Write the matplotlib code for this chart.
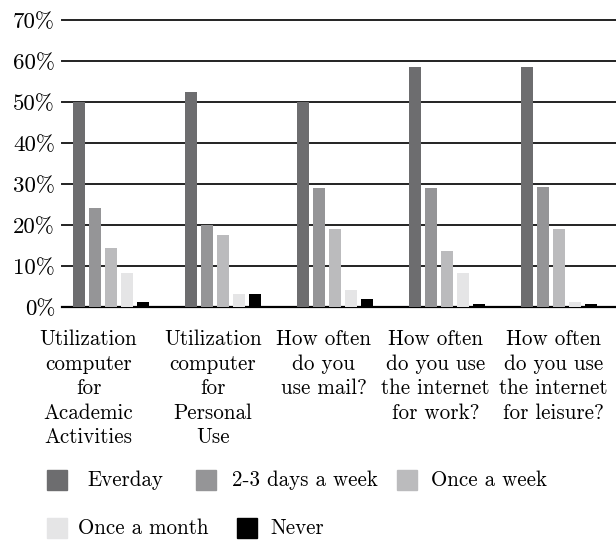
import numpy as np
import matplotlib
matplotlib.use('Agg')
import matplotlib.pyplot as plt
from matplotlib.patches import Rectangle

plt.rcParams['font.family'] = 'serif'
plt.rcParams['font.serif'] = ['cmr10', 'DejaVu Serif']
plt.rcParams['mathtext.fontset'] = 'cm'
plt.rcParams['axes.unicode_minus'] = False

categories = ['Utilization\ncomputer\nfor\nAcademic\nActivities',
              'Utilization\ncomputer\nfor\nPersonal\nUse',
              'How often\ndo you\nuse mail?',
              'How often\ndo you use\nthe internet\nfor work?',
              'How often\ndo you use\nthe internet\nfor leisure?']
series = ['Everday', '2-3 days a week', 'Once a week', 'Once a month', 'Never']
everyday = [50.0, 52.4, 50.0, 58.5, 58.5]
days23 = [24.1, 20.1, 29.0, 29.0, 29.2]
once_week = [14.3, 17.5, 19.0, 13.6, 19.0]
once_month = [8.2, 3.1, 4.1, 8.2, 1.1]
never = [1.1, 3.1, 1.9, 0.65, 0.65]
yticks = [0, 10, 20, 30, 40, 50, 60, 70]

colors = ['#6d6d6f', '#959597', '#bbbbbd', '#e5e5e6', '#000000']
values = [everyday, days23, once_week, once_month, never]

fig = plt.figure(figsize=(6.16, 5.41), dpi=100)
ax = fig.add_axes([62 / 616, 234 / 541, 554 / 616, 287 / 541])

x = np.arange(len(categories))
step = 16 / 112
width = 12 / 112
for i, (vals, c) in enumerate(zip(values, colors)):
    ax.bar(x + (i - 2) * step, vals, width, color=c, zorder=3)

ax.set_xlim(-0.4375, 4.51)
ax.set_ylim(0, 70)
ax.set_yticks(yticks)
ax.set_yticklabels(['%d%%' % v for v in yticks], fontsize=16.5)
ax.yaxis.grid(True, color='#222222', lw=1.4, zorder=0)
for gl in ax.get_ygridlines():
    gl.set_clip_on(False)
ax.tick_params(axis='y', length=0, pad=5)
ax.tick_params(axis='x', length=0)
for s in ['top', 'right', 'left']:
    ax.spines[s].set_visible(False)
ax.spines['bottom'].set_linewidth(1.6)
ax.set_xticks([])

# category labels below the groups
label_off = [-0.2, -0.09, -0.1, -0.1, -0.05]
for xi, lab, off in zip(x, categories, label_off):
    ax.text(xi + off, -5.6, lab, ha='center', va='top', fontsize=15.2,
            linespacing=1.32, transform=ax.transData, clip_on=False)

# legend laid out as in the reference
legend_pos = [(47, 470, 87), (196, 470, 232), (397, 470, 431),
              (47, 518, 78), (237, 518, 270)]
for (sx, sy, tx), name, c in zip(legend_pos, series, colors):
    fig.patches.append(Rectangle((sx / 616, 1 - (sy + 20) / 541), 20 / 616, 20 / 541,
                                 transform=fig.transFigure, color=c))
    fig.text(tx / 616, 1 - (sy + 10) / 541, name, fontsize=15.1, va='center', ha='left')

plt.savefig('out.png', dpi=100)
